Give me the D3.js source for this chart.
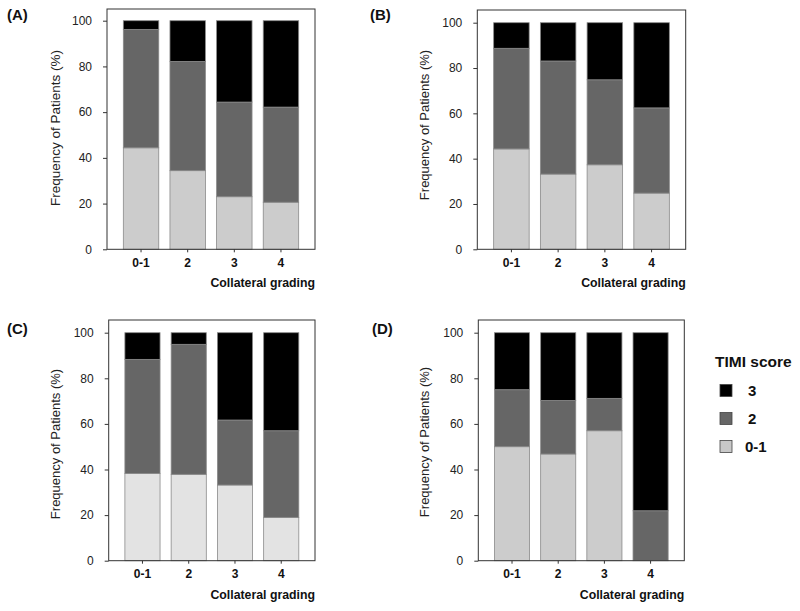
<!DOCTYPE html>
<html>
<head>
<meta charset="utf-8">
<script src="https://cdn.jsdelivr.net/npm/d3@7"></script>
<style>
  html, body { margin: 0; padding: 0; background: #fff; }
  svg { display: block; font-family: "Liberation Sans", Arial, Helvetica, sans-serif; }
</style>
</head>
<body>
<script>
// ---------------- DATA ----------------
const categories = ["0-1", "2", "3", "4"];          // Collateral grading
const timiLevels = ["0-1", "2", "3"];               // TIMI score (stack order bottom -> top)
const legendOrder = ["3", "2", "0-1"];
const panelLabels = ["(A)", "(B)", "(C)", "(D)"];
const yTicks = [0, 20, 40, 60, 80, 100];
const xAxisTitle = "Collateral grading";
const yAxisTitle = "Frequency of Patients (%)";
const legendTitle = "TIMI score";

// Panel A
const timi01A = [44.4, 34.4, 23.0, 20.6];
const timi2A  = [51.8, 47.8, 41.4, 41.6];
const timi3A  = [3.8, 17.8, 35.6, 37.8];
// Panel B
const timi01B = [44.3, 33.2, 37.3, 24.8];
const timi2B  = [44.4, 49.9, 37.5, 37.6];
const timi3B  = [11.3, 16.9, 25.2, 37.6];
// Panel C
const timi01C = [38.3, 37.9, 33.2, 19.0];
const timi2C  = [50.0, 57.0, 28.5, 38.0];
const timi3C  = [11.7, 5.1, 38.3, 43.0];
// Panel D
const timi01D = [50.0, 46.8, 57.0, 0];
const timi2D  = [25.0, 23.5, 14.2, 21.9];
const timi3D  = [25.0, 29.7, 28.8, 78.1];

const panelSeries = [
  [timi01A, timi2A, timi3A],
  [timi01B, timi2B, timi3B],
  [timi01C, timi2C, timi3C],
  [timi01D, timi2D, timi3D]
];

// ---------------- LAYOUT / STYLE ----------------
const layout = [
  { left: 107,   right: 315,   top: 9,   y100: 20.7,  y0: 249.3, lx: 7,   ly: 20,  tx: 55,  ty: 128, ts: 13.5, light: "#cccccc" },
  { left: 477.3, right: 685.7, top: 10,  y100: 22.7,  y0: 249.3, lx: 370, ly: 20,  tx: 424, ty: 125, ts: 13,   light: "#cccccc" },
  { left: 108.7, right: 315,   top: 320, y100: 332.7, y0: 560.7, lx: 7,   ly: 334, tx: 55,  ty: 444, ts: 13,   light: "#e3e3e3" },
  { left: 478.3, right: 684.3, top: 320, y100: 332.7, y0: 560.7, lx: 372, ly: 334, tx: 424, ty: 442, ts: 13,   light: "#cccccc" }
];
const darkFill = "#666666", blackFill = "#000000";

const svg = d3.select("body").append("svg")
  .attr("width", 800).attr("height", 611);

panelSeries.forEach((series, p) => {
  const L = layout[p];
  const colors = { "0-1": L.light, "2": darkFill, "3": blackFill };
  const g = svg.append("g");

  const x = d3.scaleBand().domain(categories)
    .range([L.left, L.right]).paddingInner(0.24).paddingOuter(0.35);
  const y = d3.scaleLinear().domain([0, 100]).range([L.y0, L.y100]);

  const rows = categories.map((c, i) => {
    const r = { cat: c };
    timiLevels.forEach((k, j) => r[k] = series[j][i]);
    return r;
  });
  const stacked = d3.stack().keys(timiLevels)(rows);

  g.selectAll("g.layer").data(stacked).join("g")
    .attr("class", "layer")
    .attr("fill", d => colors[d.key])
    .selectAll("rect")
    .data(d => d.filter(s => s[1] - s[0] > 0))
    .join("rect")
    .attr("x", d => x(d.data.cat))
    .attr("y", d => y(d[1]))
    .attr("width", x.bandwidth())
    .attr("height", d => y(d[0]) - y(d[1]))
    .attr("stroke", "#8a8a8a")
    .attr("stroke-width", 0.8);

  // frame
  g.append("rect")
    .attr("x", L.left).attr("y", L.top)
    .attr("width", L.right - L.left).attr("height", L.y0 - L.top)
    .attr("fill", "none").attr("stroke", "#333").attr("stroke-width", 1);

  // y axis
  const ya = g.append("g").attr("transform", `translate(${L.left},0)`)
    .call(d3.axisLeft(y).tickValues(yTicks).tickSize(4).tickPadding(11));
  ya.select(".domain").remove();
  ya.selectAll("line").attr("stroke", "#333");
  ya.selectAll("text").attr("font-size", 12).attr("fill", "#222")
    .attr("font-family", "Liberation Sans, Arial, sans-serif");

  // x axis
  const xa = g.append("g").attr("transform", `translate(0,${L.y0})`)
    .call(d3.axisBottom(x).tickSize(3).tickPadding(6));
  xa.select(".domain").remove();
  xa.selectAll("line").attr("stroke", "#333");
  xa.selectAll("text").attr("font-size", 12).attr("font-weight", "bold").attr("fill", "#111")
    .attr("font-family", "Liberation Sans, Arial, sans-serif");

  // axis titles
  g.append("text")
    .attr("x", L.right).attr("y", L.y0 + 38)
    .attr("text-anchor", "end").attr("font-size", 12.3).attr("font-weight", "bold").attr("fill", "#111")
    .text(xAxisTitle);
  g.append("text")
    .attr("transform", `translate(${L.tx},${L.ty}) rotate(-90)`)
    .attr("text-anchor", "middle").attr("dominant-baseline", "central")
    .attr("font-size", L.ts).attr("fill", "#222")
    .text(yAxisTitle);

  // panel label
  g.append("text")
    .attr("x", L.lx).attr("y", L.ly)
    .attr("font-size", 15).attr("font-weight", "bold").attr("fill", "#111")
    .text(panelLabels[p]);
});

// legend
const legendColors = { "3": blackFill, "2": darkFill, "0-1": "#c8c8c8" };
const lg = svg.append("g");
lg.append("text").attr("x", 715).attr("y", 367)
  .attr("font-size", 15.5).attr("font-weight", "bold").attr("fill", "#111")
  .text(legendTitle);
const items = lg.selectAll("g.item").data(legendOrder).join("g")
  .attr("class", "item")
  .attr("transform", (d, i) => `translate(720,${384.5 + i * 28})`);
items.append("rect").attr("width", 12).attr("height", 12)
  .attr("fill", d => legendColors[d]).attr("stroke", "#444").attr("stroke-width", 0.8);
items.append("text").attr("x", d => d === "0-1" ? 25 : 28).attr("y", 6)
  .attr("dominant-baseline", "central")
  .attr("font-size", 15).attr("font-weight", "bold").attr("fill", "#111")
  .text(d => d);
</script>
</body>
</html>
